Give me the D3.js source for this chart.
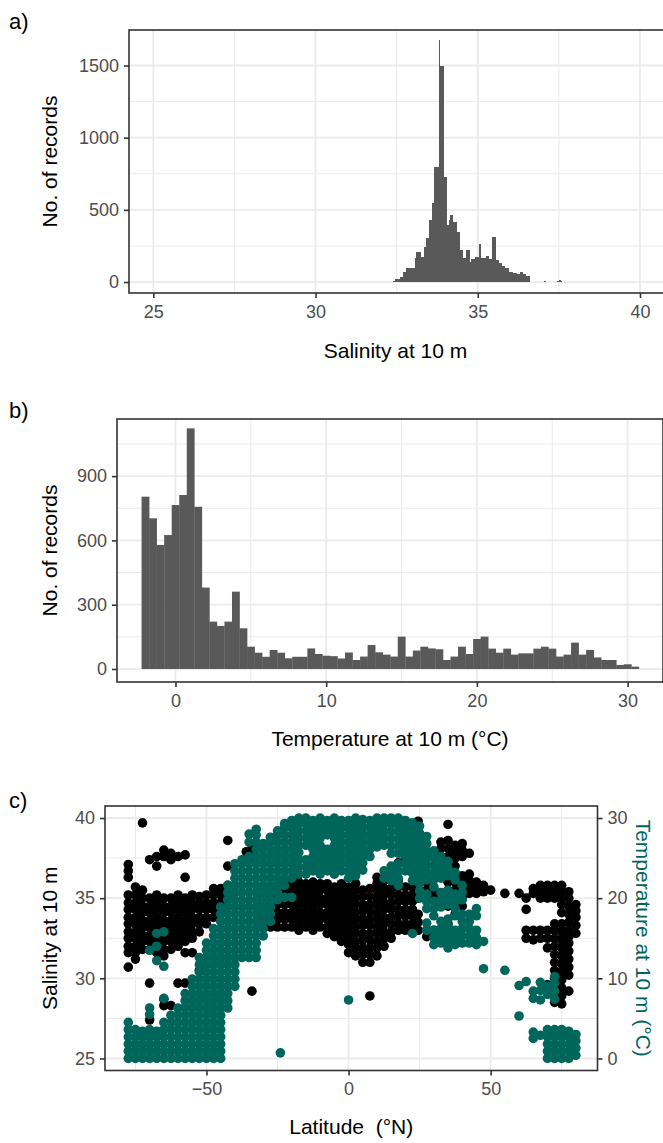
<!DOCTYPE html>
<html><head><meta charset="utf-8">
<script src="https://cdn.jsdelivr.net/npm/d3@7"></script>
<style>
body{margin:0;background:#fff}
svg{display:block}
text{font-family:"Liberation Sans",Arial,sans-serif}
</style>
</head><body>
<svg id="chart" width="663" height="1143"></svg>
<script>
// ---------------- DATA ----------------
// a) salinity histogram (bin width 0.05 starting at 32.40)
const salBinStart = 32.4;
const salBinWidth = 0.05;
const salCounts = [8,18,18,20,37,37,72,72,95,95,95,95,100,164,210,210,210,175,175,240,
  302,302,430,430,545,800,800,800,1677,1497,1497,730,730,395,430,464,464,418,418,349,
  349,222,222,164,164,222,222,141,157,157,171,171,171,263,164,164,164,180,180,157,
  157,309,309,152,152,129,129,111,111,95,95,72,72,72,65,65,55,55,67,67,
  55,55,42,42,0,0,0,0,0,0,0,0,0,8,0,0,0,0,0,0,0,10,12,10];
const salTicks = [25,30,35,40];

// b) temperature histogram (bin width 0.5 starting at -2.25)
const tempBinStart = -2.25;
const tempBinWidth = 0.5;
const tempCounts = [804,703,579,625,765,812,1123,757,380,221,201,221,361,190,104,76,57,89,76,50,
  57,57,96,70,62,60,49,77,42,58,112,78,67,58,151,58,86,104,96,92,
  42,58,104,70,140,151,95,76,95,67,73,73,95,104,95,58,67,123,67,89,
  54,42,42,19,22,11];
const tempTicks = [0,10,20,30];
const countTicksA = [0,500,1000,1500];
const countTicksB = [0,300,600,900];

// c) scatter: salinity (black) by latitude column
const salinityPoints = [
 [-77.5,[30.7,31.6,32.0,32.5,32.9,33.4,33.8,34.3,34.7,35.2,36.3,36.7,37.1]],
 [-75,[31.2,31.6,32.0,32.5,32.9,33.4,33.8,34.3,34.7,35.2,35.7]],
 [-72.5,[31.8,32.3,32.7,33.2,33.6,34.1,34.5,35.0,35.5,39.7]],
 [-70,[27.4,29.7,31.8,32.3,32.7,33.2,33.6,34.1,34.5,35.0,37.4]],
 [-67.5,[31.6,32.0,32.5,32.9,33.4,33.8,34.3,34.7,35.2,37.0,37.6]],
 [-65,[28.3,28.7,31.4,31.8,32.3,32.7,33.2,33.6,34.1,34.5,35.0,37.6,38.0]],
 [-62.5,[28.3,31.8,32.3,32.7,33.2,33.6,34.1,34.5,35.0,37.4,37.8]],
 [-60,[29.7,32.0,32.5,32.9,33.4,33.8,34.3,34.7,35.2,37.6]],
 [-57.5,[29.7,31.6,32.3,32.7,33.2,33.6,34.1,34.5,35.0,36.3,37.7]],
 [-55,[31.6,32.5,32.9,33.4,33.8,34.3,34.7,35.2]],
 [-52.5,[30.5,32.9,33.4,33.8,34.3,34.7,35.1]],
 [-50,[33.4,33.8,34.3,34.7,35.2]],
 [-47.5,[33.8,34.3,34.7,35.2,35.6]],
 [-45,[34.3,34.7,35.2,35.6]],
 [-42.5,[35.2,35.8,37.0,38.6]],
 [-40,[35.8]],
 [-36,[37.5,37.9]],
 [-34,[29.2,37.6,38.1]],
 [-30,[33.2,33.7,34.1,34.6,35.0,35.5]],
 [-27.5,[33.2,33.7,34.1,34.6,35.0,35.5]],
 [-25,[33.2,33.7,34.1,34.6,35.0,35.5,35.8]],
 [-22.5,[33.2,33.7,34.1,34.6,35.0,35.5,35.9]],
 [-20,[33.2,33.7,34.1,34.6,35.0,35.5,35.9]],
 [-17.5,[33.0,33.5,33.9,34.4,34.8,35.3,35.7,36.0]],
 [-15,[33.2,33.7,34.1,34.6,35.0,35.5,35.9]],
 [-12.5,[33.0,33.5,33.9,34.4,34.8,35.3,35.7,36.0]],
 [-10,[33.2,33.7,34.1,34.6,35.0,35.5,35.9]],
 [-7.5,[32.8,33.2,33.7,34.1,34.6,35.0,35.5,35.9]],
 [-5,[32.6,33.0,33.5,33.9,34.4,34.8,35.3,35.7]],
 [-2.5,[32.3,32.8,33.2,33.7,34.1,34.6,35.0,35.5,35.9]],
 [0,[31.6,32.1,32.5,33.0,33.4,33.9,34.3,34.8,35.2,35.7]],
 [2.5,[31.4,31.9,32.3,32.8,33.2,33.7,34.1,34.6,35.0,35.5,35.9]],
 [5,[31.0,31.5,31.9,32.4,32.8,33.3,33.7,34.2,34.6,35.1,35.5]],
 [7.5,[28.9,31.0,31.5,31.9,32.4,32.8,33.3,33.7,34.2,34.6,35.1,35.6]],
 [10,[31.4,31.9,32.3,32.8,33.2,33.7,34.1,34.6,35.0,35.5,35.9,36.3]],
 [12.5,[32.0,32.5,32.9,33.4,33.8,34.3,34.7,35.2,35.6,36.1]],
 [15,[32.5,32.9,33.4,33.8,34.3,34.7,35.2,35.6,36.1]],
 [17.5,[33.0,33.4,33.9,34.3,34.8,35.2,35.7,36.1,37.2]],
 [20,[33.0,33.4,33.9,34.3,34.8,35.2,35.7,37.5,37.9]],
 [22.5,[33.0,33.4,33.9,34.3,34.8,35.2,35.7]],
 [24.5,[33.0,33.5,34.0,35.0,35.6,36.0,39.8]],
 [27.5,[32.6,33.0,35.5,36.0]],
 [30,[32.6,33.0,35.2,35.6,37.9]],
 [32.5,[33.0,34.5,35.2,37.6,38.1,38.5]],
 [35,[33.4,34.5,35.0,35.5,36.0,36.5,37.0,37.6,38.1,38.6,39.6]],
 [37.5,[34.0,35.0,35.5,36.0,36.5,37.0,37.5,37.9,38.3]],
 [40,[34.5,35.0,35.5,36.0,36.4,37.6,38.0,38.4]],
 [42.5,[35.3,35.7,36.1,36.5,37.8]],
 [45,[35.3,35.7,36.0]],
 [47.5,[35.4,35.8]],
 [50,[35.5]],
 [55,[35.3]],
 [60,[35.3]],
 [62.5,[32.5,33.0,34.3,35.0]],
 [65,[32.4,33.0,35.3,35.6]],
 [67.5,[32.5,33.0,35.0,35.4,35.8]],
 [70,[29.6,31.9,32.5,33.0,35.0,35.4,35.8]],
 [72.5,[26.7,28.5,29.0,29.5,30.0,30.5,31.0,31.5,32.0,32.5,33.0,33.4,35.0,35.4,35.8]],
 [75,[28.4,28.9,29.4,29.9,30.4,30.9,31.4,31.9,32.4,32.9,33.4,34.1,34.6,35.0,35.4,35.8]],
 [77.5,[29.2,30.2,30.7,31.2,31.7,32.2,32.6,33.0,33.5,34.0,34.5,35.0,35.4]],
 [80,[32.8,33.3,33.8,34.2,34.6]]
];

// c) scatter: temperature (teal) by latitude column
const temperaturePoints = [
 [-77.5,[0,0.9,1.8,2.7,3.6,4.5]],
 [-75,[0,0.9,1.8,2.7,3.6]],
 [-72.5,[0,0.9,1.8,2.7,3.4]],
 [-70,[0,0.9,1.8,2.7,3.6,5.5,6.3,13.5]],
 [-67.5,[0,0.9,1.8,2.7,3.4,12.2,14,15.6]],
 [-65,[0,0.9,1.8,2.7,3.6,4.5,7.5,11.5,15.8]],
 [-62.5,[0,0.9,1.8,2.7,3.6,4.5,5.4]],
 [-60,[0,0.9,1.8,2.7,3.6,4.5,5.4,6.3]],
 [-57.5,[0,0.9,1.8,2.7,3.6,4.5,5.4,6.3,7.2,8.1]],
 [-55,[0,0.9,1.8,2.7,3.6,4.5,5.4,6.3,7.2,8.1,9,9.9]],
 [-52.5,[0,0.9,1.8,2.7,3.6,4.5,5.4,6.3,7.2,8.1,9,9.9,10.8,11.7,12.6]],
 [-50,[0,0.9,1.8,2.7,3.6,4.5,5.4,6.3,7.2,8.1,9,9.9,10.8,11.7,12.6,13.5,14.4]],
 [-47.5,[0,0.9,1.8,2.7,3.6,4.5,5.4,6.3,7.2,8.1,9,9.9,10.8,11.7,12.6,13.5,14.4,15.3,16.2]],
 [-45,[0,0.9,1.8,2.7,3.6,4.5,5.4,6.3,7.2,8.1,9,9.9,10.8,11.7,12.6,13.5,14.4,15.3,16.2,17.1,18,18.9]],
 [-42.5,[6.3,7.2,8.1,9,9.9,10.8,11.7,12.6,13.5,14.4,15.3,16.2,17.1,18,18.9,19.8,20.7,21.6]],
 [-40,[9,9.9,10.8,11.7,12.6,13.5,14.4,15.3,16.2,17.1,18,18.9,19.8,20.7,21.6,22.5,23.4,24.3]],
 [-37.5,[12.6,13.5,14.4,15.3,16.2,17.1,18,18.9,19.8,20.7,21.6,22.5,23.4,24.3,24.8]],
 [-35,[12.6,13.5,14.4,15.3,16.2,17.1,18,18.9,19.8,20.7,21.6,22.5,23.4,24.3,25.2,27,28]],
 [-32.5,[12.6,13.5,14.4,15.3,16.2,17.1,18,18.9,19.8,20.7,21.6,22.5,23.4,24.3,25.2,26.1,27,27.9,28.6]],
 [-30,[15.3,16.2,17.1,18,18.9,19.8,20.7,21.6,22.5,23.4,24.3,25.2,26.1,26.8]],
 [-27.5,[17.1,18,18.9,19.8,20.7,21.6,22.5,23.4,24.3,25.2,26.1,27,27.6]],
 [-25,[19.8,20.7,21.6,22.5,23.4,24.3,25.2,26.1,27,27.9,28.4]],
 [-24,[0.7]],
 [-22.5,[20.1,21.6,22.5,23.4,24.3,25.2,26.1,27,27.9,28.8,29.3]],
 [-20,[20.1,22.5,23.4,24.3,25.2,26.1,27,27.9,28.8,29.7]],
 [-17.5,[23,23.9,24.8,25.7,26.6,27.5,28.4,29.3,30]],
 [-15,[23,23.9,24.8,26.6,27.5,28.4,29.3,30]],
 [-12.5,[23.4,24.3,25.2,26.1,27,27.9,28.8,29.7]],
 [-10,[23,23.9,24.8,25.7,26.6,27.5,28.4,29.3,30]],
 [-7.5,[23.4,24.3,25.2,26.1,27.9,28.8,29.7]],
 [-5,[23,23.9,24.8,25.7,26.6,27.5,28.4,29.3,30]],
 [-2.5,[23.4,24.3,25.2,26.1,27,27.9,28.8,29.7]],
 [0,[7.3,22.5,23.4,24.3,25.2,26.1,27,27.9,28.8,29.7]],
 [2.5,[22.8,23.7,24.6,25.5,26.4,27.3,28.2,29.1,30]],
 [5,[23.5,24.4,25.3,26.2,27.1,28,28.9,29.8]],
 [7.5,[25.2,26.1,27,27.9,28.8,29.7]],
 [10,[26.4,27.3,28.2,29.1,30]],
 [12.5,[22.5,23.4,26.6,27.5,28.4,29.3,30]],
 [15,[22.2,23.1,24,25.6,26.5,27.4,28.3,29.2,30]],
 [17.5,[21.6,22.5,23.4,24.3,25.6,26.5,27.4,28.3,29.2,30]],
 [20,[23.4,24.3,25.2,26.1,27,27.9,28.8,29.7]],
 [22.5,[15.6,22.2,23.1,24,24.9,25.8,26.7,27.6,28.5,29.4]],
 [25,[20,20.9,21.8,22.7,23.6,24.5,25.4,26.3,27.2,28.1,29]],
 [27.5,[16,16.9,18.7,19.6,20.5,22.3,23.2,24.1,25,25.9,26.8,27.7]],
 [30,[14.2,15.1,16,17.8,18.7,19.6,21.4,22.3,23.2,24.1,25,25.9]],
 [32.5,[14.4,15.3,16.2,17.1,18.9,19.8,20.7,22.5,23.4,24.3,25.2]],
 [35,[13.8,14.7,15.6,16.5,17.4,19.2,20.1,21,22.8,23.7,24.6]],
 [37.5,[14.2,15.1,16,17.8,18.7,19.6,20.5,22.3,23.2]],
 [40,[14.4,15.3,16.2,17.1,18,19.8,20.7,21.6]],
 [42.5,[14.4,15.3,16.2,17.1,18]],
 [45,[14.2,15.1,16,17.8,18.7]],
 [47.5,[11.2,14.6]],
 [55,[11]],
 [60,[5.3,9.1]],
 [62.5,[9.6]],
 [65,[2.5,3.3,7.5,8.4]],
 [67.5,[2.9,7.3,8.5,9.5]],
 [70,[0,0.9,1.8,2.7,3.6,8,9]],
 [72.5,[0,0.9,1.8,2.7,3.6,7.4,8.4,9.4,10.2]],
 [75,[0,0.9,1.8,2.7,3.6]],
 [77.5,[0,0.9,1.8,2.7,3.4]],
 [80,[0.4,1.3,2.2,3]]
];
const latTicks = [-50,0,50];
const salScatterTicks = [25,30,35,40];
const tempScatterTicks = [0,10,20,30];

// ---------------- STYLE ----------------
const BAR = "#595959", GRID = "#EBEBEB", AXIS = "#333333", TICKTXT = "#4D4D4D", TEAL = "#00665C";
const FS_TICK = 18, FS_TITLE = 21, FS_TAG = 22, R = 4.8;

const svg = d3.select("#chart");

function gridAndFrame(g, x, y, xMajor, xMinor, yMajor, yMinor, box) {
  g.append("g").selectAll("line").data(xMinor).join("line")
    .attr("x1", d => x(d)).attr("x2", d => x(d)).attr("y1", box.top).attr("y2", box.bottom)
    .attr("stroke", GRID).attr("stroke-width", 1);
  g.append("g").selectAll("line").data(yMinor).join("line")
    .attr("y1", d => y(d)).attr("y2", d => y(d)).attr("x1", box.left).attr("x2", box.right)
    .attr("stroke", GRID).attr("stroke-width", 1);
  g.append("g").selectAll("line").data(xMajor).join("line")
    .attr("x1", d => x(d)).attr("x2", d => x(d)).attr("y1", box.top).attr("y2", box.bottom)
    .attr("stroke", GRID).attr("stroke-width", 1.8);
  g.append("g").selectAll("line").data(yMajor).join("line")
    .attr("y1", d => y(d)).attr("y2", d => y(d)).attr("x1", box.left).attr("x2", box.right)
    .attr("stroke", GRID).attr("stroke-width", 1.8);
}
function frame(g, box) {
  g.append("rect").attr("x", box.left).attr("y", box.top)
    .attr("width", box.right - box.left).attr("height", box.bottom - box.top)
    .attr("fill", "none").attr("stroke", AXIS).attr("stroke-width", 1.6);
}
function styleAxis(sel) {
  sel.select(".domain").remove();
  sel.selectAll(".tick line").attr("stroke", AXIS).attr("stroke-width", 1.6);
  sel.selectAll(".tick text").attr("fill", TICKTXT).style("font-size", FS_TICK + "px")
    .style("font-family", "'Liberation Sans', Arial, sans-serif");
}
function tag(t, x, y) {
  svg.append("text").attr("x", x).attr("y", y).text(t)
    .style("font-size", FS_TAG + "px").attr("fill", "#000");
}
function title(t, x, y, rot, color) {
  const el = svg.append("text").text(t).attr("text-anchor", "middle")
    .attr("dy", "0.35em").style("font-size", FS_TITLE + "px").attr("fill", color || "#000");
  if (rot) el.attr("transform", `translate(${x},${y}) rotate(${rot})`);
  else el.attr("x", x).attr("y", y);
}

// ---------------- PANEL A ----------------
{
  const box = {left: 129, right: 664, top: 30, bottom: 293};
  const x = d3.scaleLinear().domain([24.25, 40.74]).range([box.left, box.right]);
  const y = d3.scaleLinear().domain([-76, 1746]).range([box.bottom, box.top]);
  const g = svg.append("g");
  gridAndFrame(g, x, y, salTicks, [27.5, 32.5, 37.5], countTicksA, [250, 750, 1250], box);
  const bins = salCounts.map((c, i) => ({x0: salBinStart + i * salBinWidth, x1: salBinStart + (i + 1) * salBinWidth, c}))
    .filter(d => d.c > 0);
  g.append("g").selectAll("rect").data(bins).join("rect")
    .attr("x", d => x(d.x0)).attr("width", d => x(d.x1) - x(d.x0))
    .attr("y", d => y(d.c)).attr("height", d => y(0) - y(d.c))
    .attr("fill", BAR).attr("shape-rendering", "crispEdges");
  frame(g, box);
  g.append("g").attr("transform", `translate(0,${box.bottom})`)
    .call(d3.axisBottom(x).tickValues(salTicks).tickSize(5).tickPadding(7).tickFormat(d3.format("d"))).call(styleAxis);
  g.append("g").attr("transform", `translate(${box.left},0)`)
    .call(d3.axisLeft(y).tickValues(countTicksA).tickSize(5).tickPadding(5).tickFormat(d3.format("d"))).call(styleAxis);
  title("Salinity at 10 m", (129 + 662) / 2, 351);
  title("No. of records", 50, (box.top + box.bottom) / 2, -90);
  tag("a)", 9, 29);
}

// ---------------- PANEL B ----------------
{
  const box = {left: 117, right: 663, top: 419, bottom: 682};
  const x = d3.scaleLinear().domain([-3.88, 32.35]).range([box.left, box.right]);
  const y = d3.scaleLinear().domain([-60.7, 1166.6]).range([box.bottom, box.top]);
  const g = svg.append("g");
  gridAndFrame(g, x, y, tempTicks, [5, 15, 25], countTicksB, [150, 450, 750, 1050], box);
  const bins = tempCounts.map((c, i) => ({x0: tempBinStart + i * tempBinWidth, x1: tempBinStart + (i + 1) * tempBinWidth, c}));
  g.append("g").selectAll("rect").data(bins).join("rect")
    .attr("x", d => x(d.x0)).attr("width", d => x(d.x1) - x(d.x0) + 0.3)
    .attr("y", d => y(d.c)).attr("height", d => y(0) - y(d.c))
    .attr("fill", BAR);
  frame(g, box);
  g.append("g").attr("transform", `translate(0,${box.bottom})`)
    .call(d3.axisBottom(x).tickValues(tempTicks).tickSize(5).tickPadding(7).tickFormat(d3.format("d"))).call(styleAxis);
  g.append("g").attr("transform", `translate(${box.left},0)`)
    .call(d3.axisLeft(y).tickValues(countTicksB).tickSize(5).tickPadding(5).tickFormat(d3.format("d"))).call(styleAxis);
  title("Temperature at 10 m (\u00B0C)", (box.left + box.right) / 2, 739);
  title("No. of records", 50, (box.top + box.bottom) / 2, -90);
  tag("b)", 9, 418);
}

// ---------------- PANEL C ----------------
{
  const box = {left: 105, right: 597.5, top: 806, bottom: 1070.5};
  const x = d3.scaleLinear().domain([-85.7, 87.6]).range([box.left, box.right]);
  const y = d3.scaleLinear().domain([24.25, 40.75]).range([box.bottom, box.top]);
  const yT = d3.scaleLinear().domain([-1.5, 31.5]).range([box.bottom, box.top]);
  const g = svg.append("g");
  gridAndFrame(g, x, y, latTicks, [-75, -25, 25, 75], salScatterTicks, [27.5, 32.5, 37.5], box);
  const salPts = salinityPoints.flatMap(([lat, vals]) => vals.map(v => ({lat, v})));
  const tmpPts = temperaturePoints.flatMap(([lat, vals]) => vals.map(v => ({lat, v})));
  g.append("g").selectAll("circle").data(salPts).join("circle")
    .attr("cx", d => x(d.lat)).attr("cy", d => y(d.v)).attr("r", R).attr("fill", "#000");
  g.append("g").selectAll("circle").data(tmpPts).join("circle")
    .attr("cx", d => x(d.lat)).attr("cy", d => yT(d.v)).attr("r", R).attr("fill", TEAL);
  frame(g, box);
  g.append("g").attr("transform", `translate(0,${box.bottom})`)
    .call(d3.axisBottom(x).tickValues(latTicks).tickSize(5).tickPadding(7).tickFormat(d3.format("d"))).call(styleAxis);
  g.append("g").attr("transform", `translate(${box.left},0)`)
    .call(d3.axisLeft(y).tickValues(salScatterTicks).tickSize(5).tickPadding(5).tickFormat(d3.format("d"))).call(styleAxis);
  g.append("g").attr("transform", `translate(${box.right},0)`)
    .call(d3.axisRight(yT).tickValues(tempScatterTicks).tickSize(5).tickPadding(5).tickFormat(d3.format("d"))).call(styleAxis);
  title("Latitude\u00A0 (\u00B0N)", (box.left + box.right) / 2, 1127);
  title("Salinity at 10 m", 50, (box.top + box.bottom) / 2, -90);
  title("Temperature at 10 m (\u00B0C)", 643, (box.top + box.bottom) / 2, 90, TEAL);
  tag("c)", 9, 808);
}
</script>
</body></html>
